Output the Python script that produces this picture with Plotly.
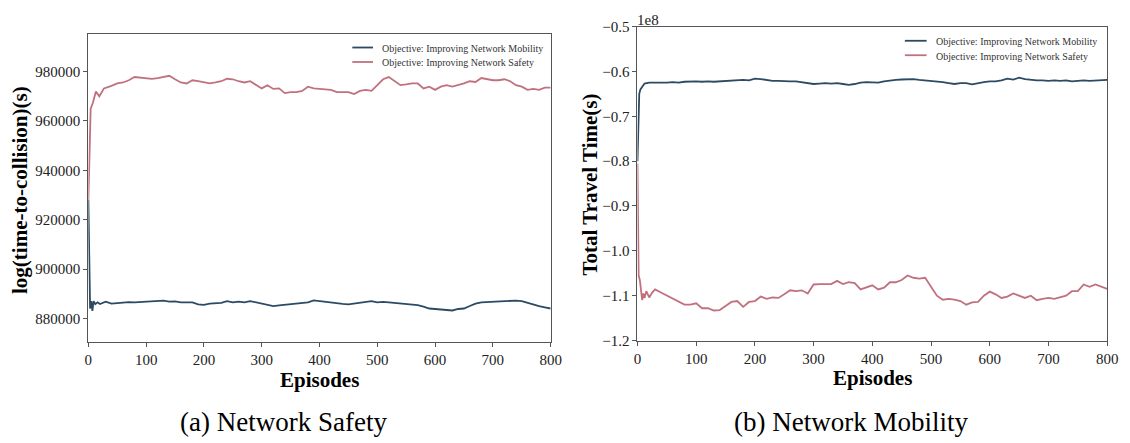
import plotly.graph_objects as go

# ---------------- data ----------------
# (a) Network Safety : log(time-to-collision)(s)
safety_mob_episodes = [0, 2, 3, 5, 7, 9, 12, 16, 20, 30, 40, 50, 60, 70, 80, 90, 100, 110, 120, 130,
                       140, 150, 160, 170, 180, 190, 200, 210, 220, 230, 240, 250, 260, 270, 280, 290,
                       300, 310, 320, 330, 340, 350, 360, 370, 380, 390, 400, 410, 420, 430, 440, 450,
                       460, 470, 480, 490, 500, 510, 520, 530, 540, 550, 560, 570, 580, 590, 600, 610,
                       620, 630, 640, 650, 660, 670, 680, 690, 700, 710, 720, 730, 740, 750, 760, 770,
                       780, 790, 800]
safety_mob_values = [928000, 895000, 884000, 887000, 883000, 887000, 885800, 886500, 885800, 886800,
                     886000, 886200, 886500, 886600, 886500, 886600, 886900, 886700, 887000, 887200,
                     886800, 886900, 886500, 886600, 886500, 885700, 885500, 886000, 886200, 886300,
                     887000, 886500, 886800, 886500, 887000, 886500, 886000, 885300, 885000, 885300,
                     885600, 885900, 886200, 886500, 886500, 887300, 887000, 886500, 886300, 886000,
                     885900, 885700, 886000, 886300, 886700, 887000, 886500, 886700, 886500, 886300,
                     886000, 885700, 885500, 885400, 884800, 884000, 883800, 883600, 883300, 883200,
                     883800, 884000, 885000, 886000, 886500, 886600, 886800, 887000, 886800, 886900,
                     887200, 887000, 886300, 885500, 885000, 884500, 884000]

safety_saf_episodes = [0, 2, 4, 8, 13, 19, 27, 40, 50, 60, 70, 80, 90, 100, 110, 120, 130, 140, 150,
                       160, 170, 180, 190, 200, 210, 220, 230, 240, 250, 260, 270, 280, 290, 300, 310,
                       320, 330, 340, 350, 360, 370, 380, 390, 400, 410, 420, 430, 440, 450, 460, 470,
                       480, 490, 500, 510, 520, 530, 540, 550, 560, 570, 580, 590, 600, 610, 620, 630,
                       640, 650, 660, 670, 680, 690, 700, 710, 720, 730, 740, 750, 760, 770, 780, 790,
                       800]
safety_saf_values = [928000, 955000, 965000, 967500, 971900, 970000, 973200, 974200, 975200, 975600,
                     976500, 977800, 977500, 977500, 977100, 977400, 977800, 978300, 976900, 975600,
                     975200, 976500, 976100, 975600, 975200, 975600, 976100, 977100, 976900, 976100,
                     975600, 976100, 974500, 973200, 974500, 973000, 973200, 971300, 971700, 971700,
                     972200, 973900, 973200, 973000, 972600, 972600, 971700, 971700, 971700, 970900,
                     972200, 972600, 972200, 974500, 976900, 977800, 976100, 974500, 974800, 975200,
                     975200, 973200, 973900, 972600, 973900, 974500, 973900, 974500, 975200, 976100,
                     975800, 977400, 976900, 976500, 976500, 976900, 976100, 974500, 973900, 972600,
                     973000, 972600, 973500, 973500]

# (b) Network Mobility : Total Travel Time(s), in units of 1e8
mobility_mob_episodes = [0, 1, 2, 3, 5, 8, 12, 20, 30, 40, 50, 60, 70, 80, 90, 100, 110, 120, 130, 140,
                         150, 160, 170, 180, 190, 200, 210, 220, 230, 240, 250, 260, 270, 280, 290, 300,
                         310, 320, 330, 340, 350, 360, 370, 380, 390, 400, 410, 420, 430, 440, 450, 460,
                         470, 480, 490, 500, 510, 520, 530, 540, 550, 560, 570, 580, 590, 600, 610, 620,
                         630, 640, 650, 660, 670, 680, 690, 700, 710, 720, 730, 740, 750, 760, 770, 780,
                         790, 800]
mobility_mob_values = [-0.800, -0.740, -0.680, -0.650, -0.640, -0.633, -0.627, -0.625, -0.625, -0.626,
                       -0.625, -0.624, -0.625, -0.623, -0.622, -0.622, -0.623, -0.622, -0.623, -0.622,
                       -0.621, -0.620, -0.619, -0.619, -0.620, -0.616, -0.617, -0.619, -0.621, -0.621,
                       -0.622, -0.622, -0.622, -0.624, -0.627, -0.628, -0.627, -0.626, -0.627, -0.626,
                       -0.628, -0.630, -0.628, -0.625, -0.624, -0.624, -0.625, -0.622, -0.620, -0.619,
                       -0.618, -0.617, -0.617, -0.619, -0.620, -0.622, -0.622, -0.624, -0.626, -0.628,
                       -0.626, -0.626, -0.629, -0.626, -0.624, -0.622, -0.622, -0.620, -0.616, -0.618,
                       -0.614, -0.617, -0.619, -0.620, -0.620, -0.621, -0.620, -0.621, -0.620, -0.622,
                       -0.621, -0.620, -0.621, -0.620, -0.619, -0.619]

mobility_saf_episodes = [0, 2, 4, 6, 8, 10, 12, 15, 20, 25, 30, 40, 50, 60, 70, 80, 90, 100, 110, 120,
                         130, 140, 150, 160, 170, 180, 190, 200, 210, 220, 230, 240, 250, 260, 270, 280,
                         290, 300, 310, 320, 330, 340, 350, 360, 370, 380, 390, 400, 410, 420, 430, 440,
                         450, 460, 470, 480, 490, 500, 510, 520, 530, 540, 550, 560, 570, 580, 590, 600,
                         610, 620, 630, 640, 650, 660, 670, 680, 690, 700, 710, 720, 730, 740, 750, 760,
                         770, 780, 790, 800]
mobility_saf_values = [-0.805, -1.055, -1.065, -1.090, -1.110, -1.095, -1.105, -1.090, -1.104, -1.093,
                       -1.086, -1.093, -1.100, -1.107, -1.114, -1.120, -1.120, -1.117, -1.128, -1.128,
                       -1.133, -1.132, -1.123, -1.114, -1.112, -1.125, -1.114, -1.112, -1.102, -1.107,
                       -1.104, -1.105, -1.097, -1.088, -1.090, -1.088, -1.095, -1.075, -1.074, -1.074,
                       -1.074, -1.067, -1.074, -1.070, -1.072, -1.086, -1.081, -1.077, -1.086, -1.082,
                       -1.070, -1.070, -1.065, -1.055, -1.060, -1.062, -1.060, -1.079, -1.100, -1.109,
                       -1.107, -1.109, -1.112, -1.120, -1.115, -1.114, -1.100, -1.091, -1.097, -1.105,
                       -1.102, -1.095, -1.100, -1.105, -1.100, -1.110, -1.107, -1.105, -1.107, -1.104,
                       -1.100, -1.090, -1.090, -1.075, -1.080, -1.075, -1.080, -1.085]

name_mobility = "Objective: Improving Network Mobility"
name_safety = "Objective: Improving Network Safety"
captions = ["(a) Network Safety", "(b) Network Mobility"]
x_title = "Episodes"
y_titles = ["log(time-to-collision)(s)", "Total Travel Time(s)"]

# ---------------- styling ----------------
W, H = 1130, 443
BLUE = "#2c4a63"
PINK = "#c0717e"
AX = "#555555"
SERIF = "Liberation Serif"


def px(x):
    return x / W


def py(y):
    return 1 - y / H


fig = go.Figure()

fig.add_trace(go.Scatter(x=safety_mob_episodes, y=safety_mob_values, mode="lines", name=name_mobility,
                         line=dict(color=BLUE, width=1.8), xaxis="x", yaxis="y"))
fig.add_trace(go.Scatter(x=safety_saf_episodes, y=safety_saf_values, mode="lines", name=name_safety,
                         line=dict(color=PINK, width=1.8), xaxis="x", yaxis="y"))
fig.add_trace(go.Scatter(x=mobility_mob_episodes, y=mobility_mob_values, mode="lines", name=name_mobility,
                         line=dict(color=BLUE, width=1.8), xaxis="x2", yaxis="y2"))
fig.add_trace(go.Scatter(x=mobility_saf_episodes, y=mobility_saf_values, mode="lines", name=name_safety,
                         line=dict(color=PINK, width=1.8), xaxis="x2", yaxis="y2"))

axis_common = dict(showline=True, mirror=True, linecolor=AX, linewidth=1, ticks="outside", ticklen=4,
                   tickcolor=AX, showgrid=False, zeroline=False,
                   tickfont=dict(family=SERIF, size=15, color="#222222"))

fig.update_layout(
    width=W, height=H, margin=dict(l=0, r=0, t=0, b=0),
    paper_bgcolor="white", plot_bgcolor="white",
    font=dict(family=SERIF),
    showlegend=False,
    xaxis=dict(domain=[px(85.5), px(554)], range=[0, 800], dtick=100, tick0=0, anchor="y", **axis_common),
    yaxis=dict(domain=[py(347), py(27)], range=[870234, 995234], dtick=20000, tick0=0, tickformat="d",
               anchor="x", **axis_common),
    xaxis2=dict(domain=[px(642), px(1118)], range=[0, 800], dtick=100, tick0=0, anchor="y2", **axis_common),
    yaxis2=dict(domain=[py(345), py(19.3)], range=[-1.2, -0.5], dtick=0.1, tick0=0, tickformat=".1f",
                anchor="x2", **axis_common),
)

# legend key (one per panel): line sample + label
legend_rows = [
    # (line x0, line x1, text x, row y, colour, label)
    (353, 374, 381, 41, BLUE, name_mobility),
    (353, 374, 381, 56, PINK, name_safety),
    (913, 935, 943, 34, BLUE, name_mobility),
    (913, 935, 943, 49, PINK, name_safety),
]
for x0, x1, tx, ry, col, label in legend_rows:
    fig.add_shape(type="line", xref="paper", yref="paper", x0=px(x0), x1=px(x1), y0=py(ry), y1=py(ry),
                  line=dict(color=col, width=1.8))
    fig.add_annotation(text=label, xref="paper", yref="paper", x=px(tx), y=py(ry + 1), xanchor="left",
                       yanchor="middle", showarrow=False,
                       font=dict(family=SERIF, size=10, color="#333333"))

annotations = [
    dict(text=x_title, x=px(320), y=py(386), font=dict(family=SERIF, size=21, color="black"), bold=True),
    dict(text=x_title, x=px(880), y=py(384), font=dict(family=SERIF, size=21, color="black"), bold=True),
    dict(text=y_titles[0], x=px(16), y=py(189), textangle=-90,
         font=dict(family=SERIF, size=21, color="black"), bold=True),
    dict(text=y_titles[1], x=px(594), y=py(183), textangle=-90,
         font=dict(family=SERIF, size=21, color="black"), bold=True),
    dict(text="1e8", x=px(653), y=py(12), font=dict(family=SERIF, size=15, color="#222222"), bold=False),
    dict(text=captions[0], x=px(283), y=py(430), font=dict(family=SERIF, size=27, color="black"), bold=False),
    dict(text=captions[1], x=px(858), y=py(430), font=dict(family=SERIF, size=27, color="black"), bold=False),
]
for a in annotations:
    bold = a.pop("bold")
    if bold:
        a["text"] = "<b>" + a["text"] + "</b>"
    fig.add_annotation(xref="paper", yref="paper", xanchor="center", yanchor="middle",
                       showarrow=False, **a)

fig.write_html("out.html")
